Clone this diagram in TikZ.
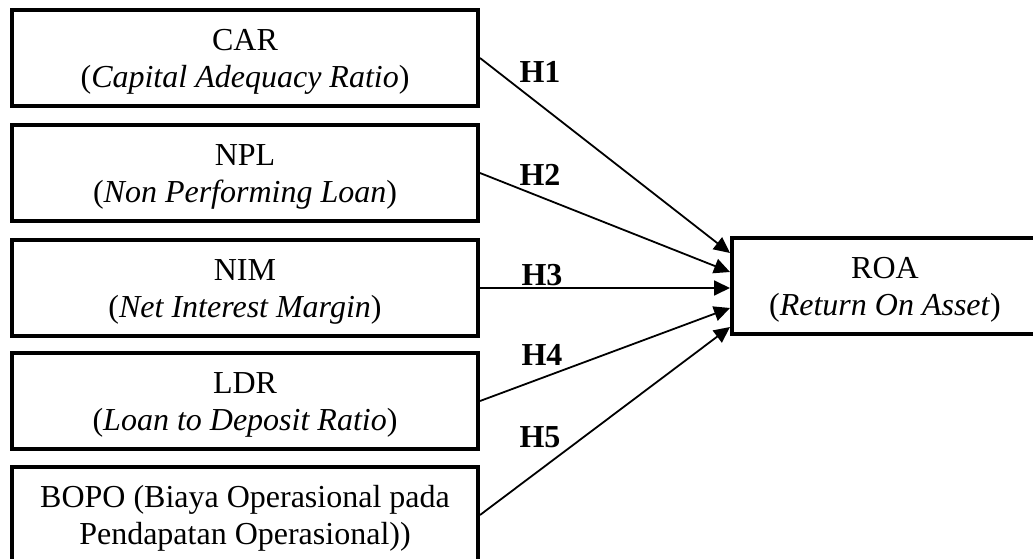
\documentclass[tikz,border=0pt]{standalone}
\usepackage{fontspec}
\setmainfont{Liberation Serif}
\usetikzlibrary{arrows.meta,calc}
% two centred lines; the strut lowers the block slightly inside its box
\newcommand{\twolines}[2]{\rule{0pt}{29pt}#1\\#2}
\begin{document}
\begin{tikzpicture}[x=1pt,y=-1pt,
  varbox/.style={draw, line width=4pt, minimum width=466pt, minimum height=96pt,
    align=center, inner sep=0pt, font=\fontsize{32}{37}\selectfont},
  link/.style={line width=1.8pt, -{Triangle[length=16pt,width=15pt]}},
  hyp/.style={font=\fontsize{32}{37}\selectfont\bfseries, inner sep=0pt}]
  \useasboundingbox[fill=white] (0,0) rectangle (1033,559);
  % independent variables
  \node[varbox] (car)  at (245,58)  {\twolines{CAR}{(\textit{Capital Adequacy Ratio})}};
  \node[varbox] (npl)  at (245,173) {\twolines{NPL}{(\textit{Non Performing Loan})}};
  \node[varbox] (nim)  at (245,288) {\twolines{NIM}{(\textit{Net Interest Margin})}};
  \node[varbox] (ldr)  at (245,401) {\twolines{LDR}{(\textit{Loan to Deposit Ratio})}};
  \node[varbox] (bopo) at (245,515) {\twolines{BOPO (Biaya Operasional pada}{Pendapatan Operasional))}};
  % dependent variable
  \node[varbox, minimum width=306pt] (roa) at (885,286) {\twolines{ROA}{(\textit{Return On Asset})}};
  % hypothesised paths
  \draw[link] (car.east)  -- ($(roa.west)+(0,-33)$);
  \draw[link] (npl.east)  -- ($(roa.west)+(0,-14)$);
  \draw[link] (nim.east)  -- ($(roa.west)+(0,2)$);
  \draw[link] (ldr.east)  -- ($(roa.west)+(0,22)$);
  \draw[link] (bopo.east) -- ($(roa.west)+(0,41)$);
  \node[hyp] (h1) at (540,72)  {H1};
  \node[hyp] (h2) at (540,175) {H2};
  \node[hyp] (h3) at (542,275) {H3};
  \node[hyp] (h4) at (542,355) {H4};
  \node[hyp] (h5) at (540,437) {H5};
\end{tikzpicture}
\end{document}
